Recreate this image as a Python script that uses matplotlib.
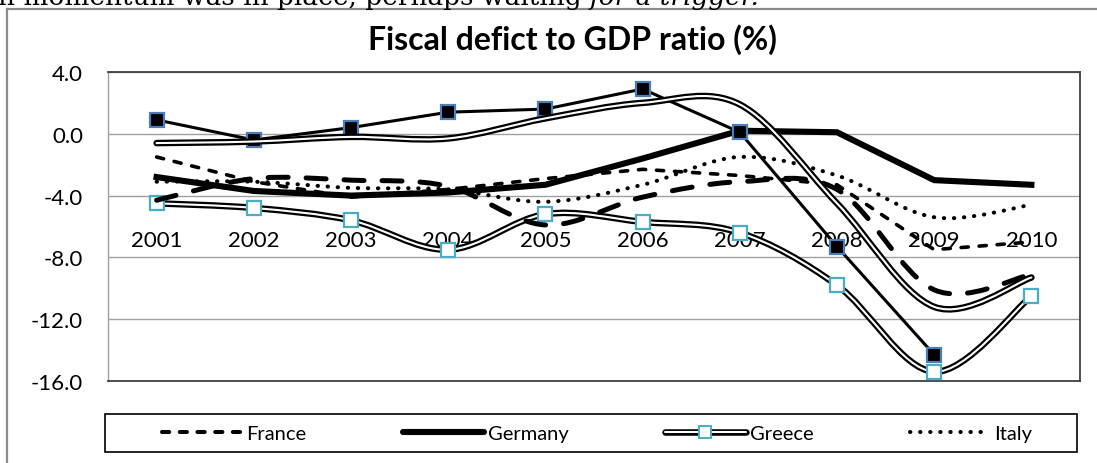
import matplotlib.pyplot as plt
import matplotlib.patheffects as pe
import numpy as np
from matplotlib.path import Path
from matplotlib.patches import PathPatch, Rectangle
from matplotlib.lines import Line2D
from matplotlib.legend_handler import HandlerTuple

plt.rcParams["font.family"] = ["Lato", "DejaVu Sans"]

years = ["2001", "2002", "2003", "2004", "2005", "2006", "2007", "2008", "2009", "2010"]

france = [-1.5, -3.1, -4.1, -3.6, -2.9, -2.3, -2.7, -3.3, -7.5, -7.0]
germany = [-2.8, -3.7, -4.0, -3.8, -3.3, -1.6, 0.2, 0.1, -3.0, -3.3]
greece = [-4.5, -4.8, -5.6, -7.5, -5.2, -5.7, -6.4, -9.8, -15.4, -10.5]
italy = [-3.1, -3.1, -3.5, -3.6, -4.4, -3.3, -1.5, -2.7, -5.4, -4.6]
ireland = [0.9, -0.4, 0.4, 1.4, 1.6, 2.9, 0.1, -7.3, -14.3, np.nan]
portugal = [-4.3, -2.9, -3.0, -3.4, -5.9, -4.1, -3.1, -3.6, -10.1, -9.1]
spain = [-0.6, -0.5, -0.2, -0.3, 1.0, 2.0, 1.9, -4.5, -11.2, -9.3]

W, H = 1097, 464
x = np.arange(1, len(years) + 1)


def smooth_path(xs, ys):
    # excel-style smoothed line: cubic bezier through every point
    pts = np.column_stack([xs, ys])
    verts = [pts[0]]
    codes = [Path.MOVETO]
    n = len(pts)
    for i in range(n - 1):
        p0 = pts[max(i - 1, 0)]
        p1 = pts[i]
        p2 = pts[i + 1]
        p3 = pts[min(i + 2, n - 1)]
        c1 = p1 + (p2 - p0) / 6.0
        c2 = p2 - (p3 - p1) / 6.0
        verts += [c1, c2, p2]
        codes += [Path.CURVE4] * 3
    return Path(verts, codes)


def curve(ax, ys, lw, ls="-", double=False, z=2):
    patch = PathPatch(smooth_path(x, ys), facecolor="none",
                      edgecolor="white" if double else "black",
                      lw=lw, linestyle=ls, zorder=z)
    patch.set_capstyle("round")
    patch.set_joinstyle("round")
    if double:
        patch.set_path_effects([pe.Stroke(linewidth=lw + 3.2, foreground="black"), pe.Normal()])
    ax.add_patch(patch)
    return patch


fig = plt.figure(figsize=(W / 100, H / 100), dpi=100)
ax = fig.add_axes([108 / W, 1 - 382 / H, (1080 - 108) / W, (382 - 73) / H])

ax.set_xlim(0.5, len(years) + 0.5)
ax.set_ylim(-16, 4)
ax.set_yticks(np.arange(-16, 4.1, 4))
ax.set_yticklabels([f"{v:.1f}" for v in np.arange(-16, 4.1, 4)], fontsize=16)
ax.tick_params(axis="y", length=0, pad=18)
ax.set_xticks([])
ax.grid(axis="y", color="#a0a0a0", lw=1.0)
ax.set_axisbelow(True)
for side in ["top", "right", "bottom"]:
    ax.spines[side].set_color("#404040")
    ax.spines[side].set_linewidth(1.3)
ax.spines["left"].set_color("#a0a0a0")
ax.spines["left"].set_linewidth(1.0)

# category labels sit inside the plot area
for xi, yr in zip(x, years):
    ax.text(xi, -6.9, yr, ha="center", va="center", fontsize=16, zorder=1)

# France
ax.plot(x, france, color="black", lw=2.6, ls=(0, (2, 3)), dash_capstyle="round", zorder=3)
# Germany
ax.plot(x, germany, color="black", lw=4.4, solid_joinstyle="miter", zorder=4)
# Greece
curve(ax, greece, 1.5, double=True, z=5)
ax.plot(x, greece, ls="none", marker="s", ms=9.5, mfc="white", mec="#4bacc6", mew=1.6, zorder=5)
# Italy
curve(ax, italy, 2.9, ls=(0, (0.1, 2.4)), z=6)
# Ireland
ax.plot(x, ireland, color="black", lw=2.2, zorder=7, marker="s", ms=9.5,
        mfc="black", mec="#4a7ebb", mew=1.6)
# Portugal
curve(ax, portugal, 3.6, ls=(0, (4, 3.6)), z=8)
# Spain
curve(ax, spain, 1.5, double=True, z=9)

fig.text(572 / W, 1 - 40 / H, "Fiscal defict to GDP ratio (%)", ha="center", va="center",
         fontsize=23, fontweight="bold")

# legend frame and entries
fig.patches.append(Rectangle((105 / W, 1 - 453 / H), (1077 - 105) / W, (453 - 415) / H,
                             transform=fig.transFigure, fill=False, edgecolor="black", lw=1.2))
greece_line = Line2D([], [], color="white", lw=1.5, solid_capstyle="round",
                     path_effects=[pe.Stroke(linewidth=4.7, foreground="black"), pe.Normal()])
greece_mark = Line2D([], [], ls="none", marker="s", ms=8.5, mfc="white", mec="#4bacc6", mew=1.4)
handles = [
    Line2D([], [], color="black", lw=2.9, ls=(0, (1.8, 2.6)), dash_capstyle="round"),
    Line2D([], [], color="black", lw=4.4, solid_capstyle="round"),
    (greece_line, greece_mark),
    Line2D([], [], color="black", lw=2.9, ls=(0, (0.1, 2.4)), dash_capstyle="round"),
]
fig.legend(handles, ["France", "Germany", "Greece", "Italy"], ncol=4, frameon=False,
           loc="center", bbox_to_anchor=(597 / W, 1 - 434 / H), fontsize=14.5,
           handlelength=4.0, handletextpad=0.2, columnspacing=4.8,
           handler_map={tuple: HandlerTuple(ndivide=1, pad=0)})

# chart border and the page text running above it
fig.add_artist(Line2D([7 / W, 7 / W], [0, 1 - 10 / H], color="#8c8c8c", lw=1.6))
fig.add_artist(Line2D([7 / W, 1], [1 - 10 / H, 1 - 10 / H], color="#8c8c8c", lw=1.6))
t1 = fig.text(-2 / W, 1 - 5 / H, "n momentum was in place, perhaps waiting ", va="baseline",
              fontsize=19, family="DejaVu Serif")
fig.canvas.draw()
bb = t1.get_window_extent()
fig.text(bb.x1 / W, 1 - 5 / H, "for a trigger.", va="baseline", fontsize=19,
         family="DejaVu Serif", style="italic")

fig.savefig("out.png", dpi=100)
